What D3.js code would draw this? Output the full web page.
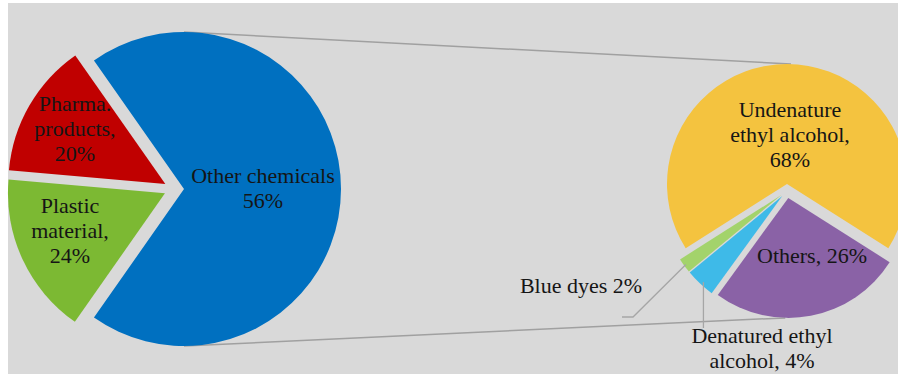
<!DOCTYPE html>
<html>
<head>
<meta charset="utf-8">
<script src="https://cdn.jsdelivr.net/npm/d3@7"></script>
<style>
  body { margin: 0; background: #fff; }
  svg text { font-family: "Liberation Serif", "DejaVu Serif", serif; fill: #151515; }
</style>
</head>
<body>
<svg id="chart" width="898" height="374"></svg>
<script>
// main pie: the first slice is the one split into the second pie
const mainNames = ['Other chemicals', 'Plastic material', 'Pharma. products'];
const mainLabels = [['Other chemicals', '56%'], ['Plastic', 'material,', '24%'], ['Pharma.', 'products,', '20%']];
const mainOwn = [24, 20];   // plastic, pharma
// second pie
const subNames = ['Undenature ethyl alcohol', 'Others', 'Denatured ethyl alcohol', 'Blue dyes'];
const subValues = [68, 26, 4, 2];
const subLabels = [['Undenature', 'ethyl alcohol,', '68%'], ['Others, 26%'], ['Denatured ethyl', 'alcohol, 4%'], ['Blue dyes 2%']];

const mainColors = ['#0070c0', '#7cb933', '#c00000'];
const subColors = ['#f4c33f', '#8a62a6', '#3ebae8', '#a3d36b'];

var buildChart = function() {
    const svg = d3.select('#chart');
    svg.append('rect').attr('x', 8).attr('y', 3).attr('width', 890).attr('height', 371).attr('fill', '#d9d9d9');

    const main = { cx: 174, cy: 189, r: 157, explode: 10 };
    const sub = { cx: 787, cy: 191, r: 120, explode: 7 };

    const mainValues = [d3.sum(subValues)].concat(mainOwn);
    const mainShare = mainValues[0] / d3.sum(mainValues);
    const mainPie = d3.pie().sort(null)
        .startAngle(Math.PI / 2 - Math.PI * mainShare)
        .endAngle(Math.PI / 2 - Math.PI * mainShare + 2 * Math.PI);
    const subShare = subValues[0] / d3.sum(subValues);
    const subPie = d3.pie().sort(null)
        .startAngle(-Math.PI * subShare)
        .endAngle(-Math.PI * subShare + 2 * Math.PI);

    const off = (a, d) => { const m = (a.startAngle + a.endAngle) / 2; return [d * Math.sin(m), -d * Math.cos(m)]; };
    const pt = (x, y, ang, rr) => [x + rr * Math.sin(ang), y - rr * Math.cos(ang)];

    const mainArcs = mainPie(mainValues);
    const subArcs = subPie(subValues);

    // connector lines between the two pies
    const blue = mainArcs[0];
    const bo = off(blue, main.explode);
    const yo = off(subArcs[0], sub.explode);
    const po = off(subArcs[1], sub.explode);
    const lines = [
        [[main.cx + bo[0], main.cy + bo[1] - main.r], [sub.cx + yo[0] + 4, sub.cy + yo[1] - sub.r]],
        [[main.cx + bo[0], main.cy + bo[1] + main.r], [sub.cx + po[0] - 3, sub.cy + po[1] + sub.r]]
    ];
    svg.selectAll('.conn').data(lines).enter().append('path')
        .attr('class', 'conn')
        .attr('d', d3.line())
        .attr('fill', 'none').attr('stroke', '#a0a0a0').attr('stroke-width', 1.5);

    const mainArc = d3.arc().innerRadius(0).outerRadius(main.r);
    const subArc = d3.arc().innerRadius(0).outerRadius(sub.r);

    const mg = svg.append('g').attr('transform', `translate(${main.cx},${main.cy})`);
    mg.selectAll('path').data(mainArcs).enter().append('path')
        .attr('d', mainArc)
        .attr('transform', d => { const o = off(d, main.explode); return `translate(${o[0]},${o[1]})`; })
        .attr('fill', (d, i) => mainColors[i]);

    const sg = svg.append('g').attr('transform', `translate(${sub.cx},${sub.cy})`);
    sg.selectAll('path').data(subArcs).enter().append('path')
        .attr('d', subArc)
        .attr('transform', d => { const o = off(d, sub.explode); return `translate(${o[0]},${o[1]})`; })
        .attr('fill', (d, i) => subColors[i]);

    // clip for the pharma label, which is cut by the slice edge
    const red = mainArcs[2], ro = off(red, main.explode);
    svg.append('clipPath').attr('id', 'redclip').append('path')
        .attr('d', mainArc(red))
        .attr('transform', `translate(${main.cx + ro[0]},${main.cy + ro[1]})`);

    // leader lines for the small slices
    const cy4 = subArcs[2], gr2 = subArcs[3];
    const co = off(cy4, sub.explode), go = off(gr2, sub.explode);
    const cm = pt(sub.cx + co[0], sub.cy + co[1], (cy4.startAngle + cy4.endAngle) / 2, sub.r - 2);
    const gm = pt(sub.cx + go[0], sub.cy + go[1], (gr2.startAngle + gr2.endAngle) / 2, sub.r - 2);
    const leaders = [
        [[cm[0] + 2, cm[1]], [cm[0] + 2, 328]],
        [[gm[0], gm[1]], [633, 317], [622, 317]]
    ];
    svg.selectAll('.lead').data(leaders).enter().append('path')
        .attr('class', 'lead')
        .attr('d', d3.line())
        .attr('fill', 'none').attr('stroke', '#a6a6a6').attr('stroke-width', 1.3);

    // label layout: center x, first baseline
    const mainPos = [[263, 183], [70, 213], [75, 111]];
    const subPos = [[790, 117], [812, 263], [762, 343], [581, 293]];
    const lh = 25;

    const addLabel = function(lines, p, clip) {
        const t = svg.append('text')
            .attr('text-anchor', 'middle')
            .style('font-size', '22px');
        if (clip) t.attr('clip-path', 'url(#redclip)');
        lines.forEach((s, i) => {
            t.append('tspan').attr('x', p[0]).attr('y', p[1] + i * lh).text(s);
        });
    };
    mainLabels.forEach((l, i) => addLabel(l, mainPos[i], i === 2));
    subLabels.forEach((l, i) => addLabel(l, subPos[i], false));
};

buildChart();
</script>
</body>
</html>
